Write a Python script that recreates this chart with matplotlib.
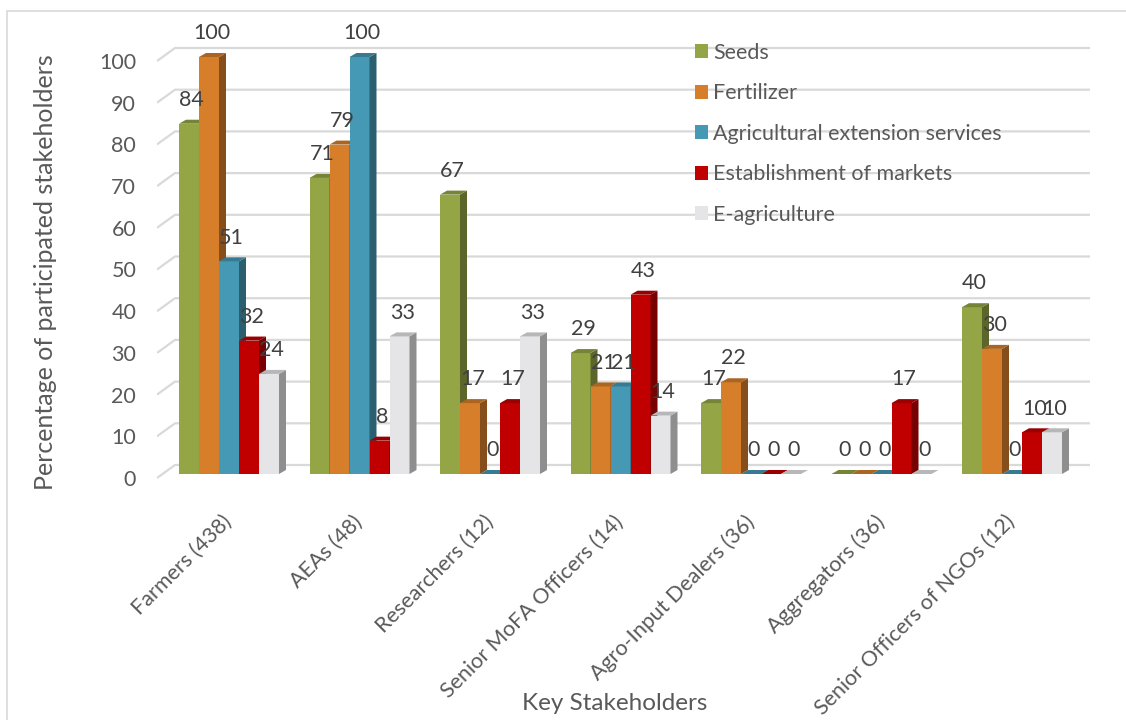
import matplotlib
matplotlib.use("Agg")
import matplotlib.pyplot as plt
from matplotlib.patches import Polygon, Rectangle, Patch
import numpy as np

plt.rcParams['font.family'] = ['Lato', 'DejaVu Sans']

# Data
stakeholders = ['Farmers (438)', 'AEAs (48)', 'Researchers (12)', 'Senior MoFA Officers (14)',
                'Agro-Input Dealers (36)', 'Aggregators (36)', 'Senior Officers of NGOs (12)']
series_names = ['Seeds', 'Fertilizer', 'Agricultural extension services',
                'Establishment of markets', 'E-agriculture']
seeds = [84, 71, 67, 29, 17, 0, 40]
fertilizer = [100, 79, 17, 21, 22, 0, 30]
extension = [51, 100, 0, 21, 0, 0, 0]
markets = [32, 8, 17, 43, 0, 17, 10]
e_agriculture = [24, 33, 33, 14, 0, 0, 10]
yticks = list(range(0, 101, 10))

series = [seeds, fertilizer, extension, markets, e_agriculture]
colors = ['#94a545', '#d67e2a', '#4599b5', '#c00000', '#e5e5e7']

W, H = 1126, 720
fig = plt.figure(figsize=(W / 100, H / 100), dpi=100)

# pixel layout of the plot area
px_left, px_right, px_top, px_bottom = 157, 1090, 20, 480
px_zero, px_per_unit = 474, 4.17
px_cat0, px_cat_step = 229, 130.5

ax = fig.add_axes([px_left / W, 1 - px_bottom / H, (px_right - px_left) / W, (px_bottom - px_top) / H])
ax.set_xlim((px_left - px_cat0) / px_cat_step, (px_right - px_cat0) / px_cat_step)
ax.set_ylim((px_zero - px_bottom) / px_per_unit, (px_zero - px_top) / px_per_unit)
for s in ax.spines.values():
    s.set_visible(False)

# 3D depth offsets in data units
bar_w = 20 / px_cat_step
bar_dx, bar_dy = 7 / px_cat_step, 4 / px_per_unit
wall_dx, wall_front, wall_back = 18 / px_cat_step, -4 / px_per_unit, 9 / px_per_unit
x_front = ax.get_xlim()[0]

# back wall gridlines with the short diagonal at the left
for v in yticks:
    ax.plot([x_front, x_front + wall_dx, ax.get_xlim()[1]],
            [v + wall_front, v + wall_back, v + wall_back],
            color='#d9d9d9', lw=1.6, zorder=1, solid_capstyle='butt')

def shade(c, f):
    rgb = np.array(matplotlib.colors.to_rgb(c))
    return tuple(rgb * f)

z = 2
for k in range(len(stakeholders)):
    for i, vals in enumerate(series):
        v = vals[k]
        xc = k + (i - 2) * bar_w
        x0, x1 = xc - bar_w / 2, xc + bar_w / 2
        c = colors[i]
        ax.bar(xc, v, width=bar_w, color=c, zorder=z, linewidth=0)
        side = Polygon([(x1, 0), (x1 + bar_dx, bar_dy), (x1 + bar_dx, v + bar_dy), (x1, v)],
                       closed=True, facecolor=shade(c, 0.62), edgecolor='none', zorder=z)
        top = Polygon([(x0, v), (x0 + bar_dx, v + bar_dy), (x1 + bar_dx, v + bar_dy), (x1, v)],
                      closed=True, facecolor=shade(c, 0.8), edgecolor='none', zorder=z)
        ax.add_patch(side)
        ax.add_patch(top)
        z += 1
        ax.text(xc + 0.02, v + 5.7, f'{v}', ha='center', va='center',
                fontsize=15.5, color='#404040', zorder=100)

# axes ticks
ax.set_yticks([v + wall_front for v in yticks])
ax.set_yticklabels([str(v) for v in yticks], fontsize=15.5, color='#595959')
ax.tick_params(axis='y', length=0, pad=15)
ax.set_xticks(range(len(stakeholders)))
ax.set_xticklabels(stakeholders, rotation=45, ha='right', va='center',
                   rotation_mode='anchor', fontsize=15.5, color='#595959')
ax.tick_params(axis='x', length=0, pad=28)

fig.text(46 / W, 1 - 272 / H, 'Percentage of participated stakeholders', rotation=90,
         ha='center', va='center', fontsize=18, color='#595959')
fig.text(615 / W, 1 - 703 / H, 'Key Stakeholders', ha='center', va='center',
         fontsize=17.5, color='#595959')

# legend inside the plot area
handles = [Patch(facecolor=c, edgecolor='none') for c in colors]
fig.legend(handles, series_names, loc='upper left', bbox_to_anchor=(684 / W, 1 - 32 / H),
           frameon=False, fontsize=15.5, labelcolor='#595959', handlelength=0.62,
           handleheight=0.62, handletextpad=0.25, labelspacing=0.95, borderpad=0)

# chart border
fig.patches.append(Rectangle((7.5 / W, -0.1), 1.2, 1.1 - 11 / H + 0.0, transform=fig.transFigure,
                             fill=False, edgecolor='#d9d9d9', lw=1.2))

fig.savefig('out.png', dpi=100, facecolor='white')
